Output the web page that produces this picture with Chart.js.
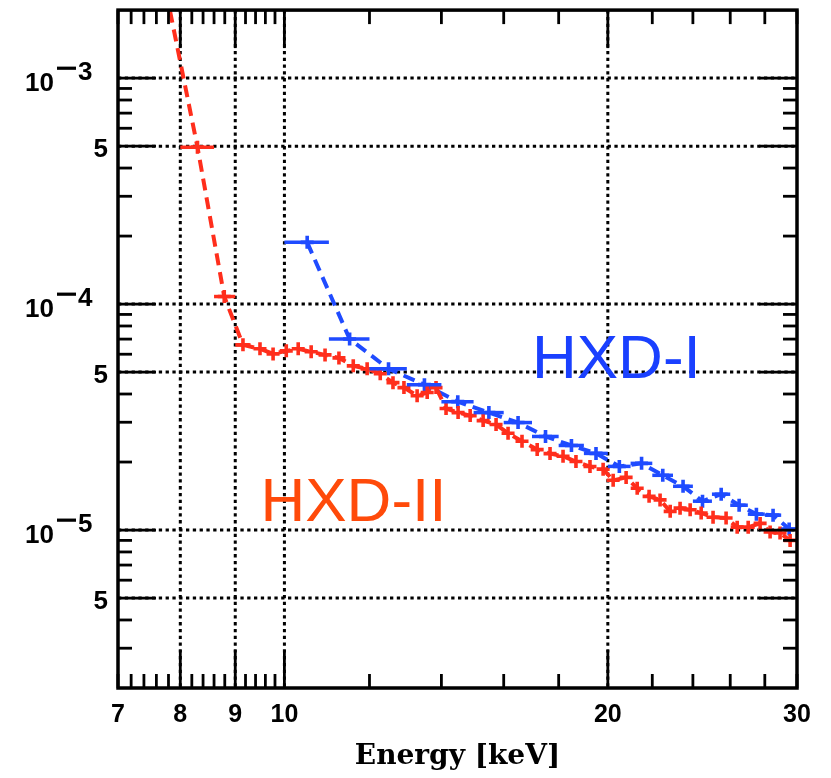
<!DOCTYPE html>
<html>
<head>
<meta charset="utf-8">
<title>HXD background</title>
<script src="https://cdn.jsdelivr.net/npm/chart.js@4.4.1/dist/chart.umd.min.js"></script>
<style>
  html, body { margin: 0; padding: 0; background: #fff; }
  #wrap { width: 831px; height: 778px; }
</style>
</head>
<body>
<div id="wrap"><canvas id="chart" width="831" height="778"></canvas></div>
<script>
// Data --------------------------------------------------------------------------
// HXD-II (red)
const redEnergy = [7.7, 8.3, 8.79, 9.15, 9.49, 9.76, 10.04, 10.3, 10.59, 10.91, 11.24, 11.59, 11.94,
  12.28, 12.62, 12.92, 13.29, 13.58, 13.84, 14.14, 14.51, 14.89, 15.31, 15.74, 16.15, 16.64, 17.19,
  17.67, 18.17, 18.68, 19.25, 19.8, 20.23, 20.8, 21.3, 21.85, 22.37, 22.86, 23.35, 23.86, 24.43,
  25.06, 25.77, 26.39, 27.02, 27.72, 28.32, 28.93, 29.56];
const redFlux = [2.9e-3, 4.95e-4, 1.08e-4, 6.6e-5, 6.34e-5, 6.02e-5, 6.21e-5, 6.34e-5, 6.15e-5, 5.96e-5,
  5.78e-5, 5.33e-5, 5.17e-5, 4.92e-5, 4.49e-5, 4.27e-5, 3.93e-5, 4.06e-5, 4.27e-5, 3.45e-5, 3.31e-5,
  3.21e-5, 3.05e-5, 2.93e-5, 2.68e-5, 2.47e-5, 2.27e-5, 2.18e-5, 2.12e-5, 2.01e-5, 1.91e-5, 1.86e-5,
  1.66e-5, 1.71e-5, 1.53e-5, 1.41e-5, 1.36e-5, 1.21e-5, 1.25e-5, 1.23e-5, 1.19e-5, 1.14e-5, 1.13e-5,
  1.03e-5, 1.03e-5, 1.07e-5, 9.8e-6, 9.7e-6, 9.0e-6];
// wide bins only for the first red points (the rest are plain crosses)
const redBinLo = [7.4, 8.0, 8.6, 9.0];
const redBinHi = [8.0, 8.6, 9.0, 9.3];

// HXD-I (blue), 1 keV bins
const blueEnergy = [10.5, 11.5, 12.5, 13.5, 14.5, 15.5, 16.5, 17.5, 18.5, 19.5, 20.5, 21.5, 22.5,
  23.5, 24.5, 25.5, 26.5, 27.5, 28.5, 29.5];
const blueFlux = [1.876e-4, 7.01e-5, 5.17e-5, 4.40e-5, 3.70e-5, 3.31e-5, 2.99e-5, 2.595e-5, 2.368e-5,
  2.184e-5, 1.913e-5, 1.973e-5, 1.747e-5, 1.562e-5, 1.342e-5, 1.441e-5, 1.288e-5, 1.176e-5, 1.164e-5,
  1.010e-5];
const blueBinLo = [10, 11, 12, 13, 14, 15, 16, 17, 18, 19, 20, 21, 22, 23, 24, 25, 26, 27, 28, 29];
const blueBinHi = [11, 12, 13, 14, 15, 16, 17, 18, 19, 20, 21, 22, 23, 24, 25, 26, 27, 28, 29, 30];

// Axes
const xRange = [7, 30];
const yRange = [2e-6, 2e-3];
const xMajorTicks = [7, 8, 9, 10, 20, 30];
const xLongTicks = [8, 9, 10, 20];
const xMinorTicks = [7.2, 7.4, 7.6, 7.8, 8.2, 8.4, 8.6, 8.8, 9.2, 9.4, 9.6, 9.8, 12, 14, 16, 18, 22, 24, 26, 28];
const yMajorTicks = [1e-3, 5e-4, 1e-4, 5e-5, 1e-5, 5e-6];
const yMinorTicks = [9e-4, 8e-4, 7e-4, 6e-4, 4e-4, 3e-4, 2e-4, 9e-5, 8e-5, 7e-5, 6e-5, 4e-5, 3e-5, 2e-5,
  9e-6, 8e-6, 7e-6, 6e-6, 4e-6, 3e-6];
const yLabelBase = ["10", "5", "10", "5", "10", "5"];
const yLabelExp = ["3", "", "4", "", "5", ""];

// Text labels anchored in data coordinates
const notes = [
  { text: "HXD-I", energy: 17.0, flux: 4.72e-5, color: "#1a40ff" },
  { text: "HXD-II", energy: 9.5, flux: 1.10e-5, color: "#ff4a0a" }
];

const RED = "#ff2e1c";
const BLUE = "#1f4bff";
const TICK_FONT = '"Liberation Sans", Arial, sans-serif';

// Helpers ----------------------------------------------------------------------
function seg(ctx, x1, y1, x2, y2) {
  ctx.beginPath(); ctx.moveTo(x1, y1); ctx.lineTo(x2, y2); ctx.stroke();
}

// grid (dotted) before datasets, frame/ticks/labels after
const framePlugin = {
  id: "frame",
  beforeDatasetsDraw(chart) {
    const { ctx, chartArea: a, scales: { x, y } } = chart;
    ctx.save();
    ctx.strokeStyle = "#000";
    ctx.lineWidth = 3;
    ctx.setLineDash([3.3, 3.5]);
    xLongTicks.forEach(v => { const px = x.getPixelForValue(v); seg(ctx, px, a.top, px, a.bottom); });
    yMajorTicks.forEach(v => { const py = y.getPixelForValue(v); seg(ctx, a.left, py, a.right, py); });
    ctx.restore();
  },
  afterDatasetsDraw(chart) {
    // horizontal bin bars
    const { ctx, chartArea: a, scales: { x, y } } = chart;
    ctx.save();
    ctx.beginPath(); ctx.rect(a.left, a.top, a.width, a.height); ctx.clip();
    ctx.lineWidth = 3.5;
    const bars = [[redEnergy, redFlux, redBinLo, redBinHi, RED], [blueEnergy, blueFlux, blueBinLo, blueBinHi, BLUE]];
    bars.forEach(([en, fl, lo, hi, col]) => {
      ctx.strokeStyle = col;
      en.forEach((e, i) => {
        if (lo[i] === undefined) return;
        const py = y.getPixelForValue(fl[i]);
        seg(ctx, x.getPixelForValue(lo[i]), py, x.getPixelForValue(hi[i]), py);
      });
    });
    ctx.restore();
  },
  afterDraw(chart) {
    const { ctx, chartArea: a, scales: { x, y } } = chart;
    ctx.save();
    ctx.strokeStyle = "#000";
    ctx.lineWidth = 2.8;
    const LONG = 38, SHORT = 14;
    xMajorTicks.concat(xMinorTicks).forEach(v => {
      const px = x.getPixelForValue(v);
      const len = xLongTicks.includes(v) ? LONG : SHORT;
      seg(ctx, px, a.bottom, px, a.bottom - len);
      seg(ctx, px, a.top, px, a.top + len);
    });
    yMajorTicks.concat(yMinorTicks).forEach(v => {
      const py = y.getPixelForValue(v);
      const len = yMajorTicks.includes(v) ? LONG : SHORT;
      seg(ctx, a.left, py, a.left + len, py);
      seg(ctx, a.right, py, a.right - len, py);
    });
    ctx.lineWidth = 3.5;
    ctx.strokeRect(a.left, a.top, a.width, a.height);

    // y tick labels: "10" with raised "-n", and plain "5"
    ctx.fillStyle = "#000";
    ctx.font = "bold 26px " + TICK_FONT;
    ctx.textBaseline = "alphabetic";
    yMajorTicks.forEach((v, i) => {
      const py = y.getPixelForValue(v);
      if (yLabelExp[i]) {
        ctx.textAlign = "left";
        ctx.fillText(yLabelBase[i], a.left - 93, py + 13);
        ctx.fillRect(a.left - 61, py - 11.5, 19, 3.2);   // long minus sign
        ctx.fillText(yLabelExp[i], a.left - 40, py + 2);
      } else {
        ctx.textAlign = "right";
        ctx.fillText(yLabelBase[i], a.left - 10, py + 11);
      }
    });

    // series labels
    ctx.textAlign = "left";
    ctx.font = '62px "Liberation Sans", Arial, sans-serif';
    notes.forEach(n => {
      ctx.fillStyle = n.color;
      ctx.fillText(n.text, x.getPixelForValue(n.energy), y.getPixelForValue(n.flux));
    });
    ctx.restore();
  }
};

function series(en, fl, col) {
  return {
    data: en.map((e, i) => ({ x: e, y: fl[i] })),
    showLine: true,
    borderColor: col,
    borderWidth: 4,
    borderDash: [12, 7],
    pointStyle: "cross",
    pointRadius: 6.5,
    pointBorderWidth: 3.6,
    pointBorderColor: col,
    pointBackgroundColor: col,
    pointHoverRadius: 6.5,
    clip: 0
  };
}

new Chart(document.getElementById("chart").getContext("2d"), {
  type: "scatter",
  data: { datasets: [series(redEnergy, redFlux, RED), series(blueEnergy, blueFlux, BLUE)] },
  options: {
    responsive: false,
    animation: false,
    devicePixelRatio: 1,
    layout: { padding: { left: 0, top: 8, right: 34, bottom: 0 } },
    plugins: { legend: { display: false }, tooltip: { enabled: false } },
    scales: {
      x: {
        type: "logarithmic",
        min: xRange[0], max: xRange[1],
        grid: { display: false, drawTicks: false },
        border: { display: false },
        afterBuildTicks: s => { s.ticks = xMajorTicks.map(v => ({ value: v })); },
        afterFit: s => { s.height = 90; },
        ticks: {
          autoSkip: false, maxRotation: 0, padding: 12, color: "#000",
          font: { family: TICK_FONT, size: 25, weight: "bold" },
          callback: v => String(v)
        },
        title: {
          display: true, text: "Energy [keV]", color: "#000",
          font: { family: '"DejaVu Serif", serif', size: 28, weight: "bold" },
          padding: { top: 0, bottom: 4 }
        }
      },
      y: {
        type: "logarithmic",
        min: yRange[0], max: yRange[1],
        grid: { display: false, drawTicks: false },
        border: { display: false },
        ticks: { display: false },
        afterFit: s => { s.width = 118; }
      }
    }
  },
  plugins: [framePlugin]
});
</script>
</body>
</html>
